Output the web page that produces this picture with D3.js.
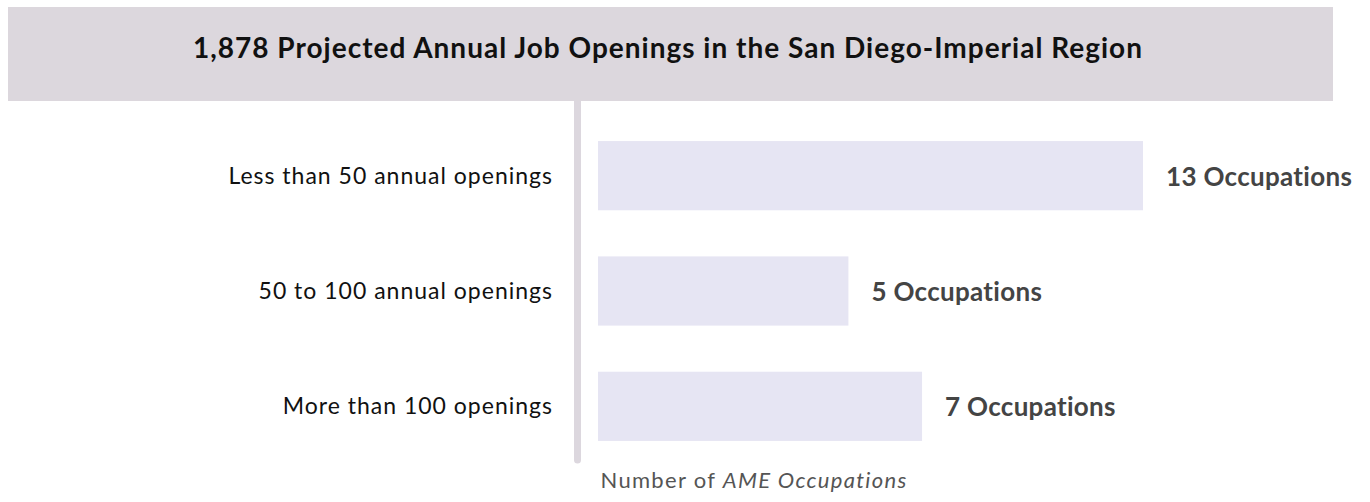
<!DOCTYPE html>
<html>
<head>
<meta charset="utf-8">
<script src="https://cdn.jsdelivr.net/npm/d3@7"></script>
<style>
  body { margin: 0; background: #ffffff; }
  text { font-family: Lato, "Open Sans", sans-serif; }
</style>
</head>
<body>
<div id="viz_openings"></div>
<script>
// data
var title = '1,878 Projected Annual Job Openings in the San Diego-Imperial Region';
var categories = ['Less than 50 annual openings', '50 to 100 annual openings', 'More than 100 openings'];
var occupations = [13, 5, 7];
var axisLabel = ['Number of ', 'AME Occupations'];

function plotOpenings() {
    var width_svg = 1370;
    var height_svg = 502;

    var svg = d3.select('#viz_openings')
        .append('svg')
        .attr('width', width_svg)
        .attr('height', height_svg);

    var rows = categories.map(function(c, i) {
        return {category: c, value: occupations[i]};
    });

    // bars start a little left of the zero point, like the original
    var x = d3.scaleLinear()
        .domain([-1.8, d3.max(occupations)])
        .range([598, 1143]);

    var y = d3.scaleBand()
        .domain(categories)
        .range([118, 464])
        .paddingInner(0.4)
        .paddingOuter(0.2);

    // vertical axis line (drawn first so the band covers its top)
    svg.append('line')
        .attr('x1', 577.5)
        .attr('x2', 577.5)
        .attr('y1', 95)
        .attr('y2', 460)
        .attr('stroke', '#dcd7de')
        .attr('stroke-width', 7)
        .attr('stroke-linecap', 'round');

    // title band
    svg.append('rect')
        .attr('x', 8)
        .attr('y', 7)
        .attr('width', 1325)
        .attr('height', 94)
        .style('fill', '#dcd7dd');

    // the original font is much wider, so stretch the spacing to its width
    svg.append('text')
        .attr('x', 193)
        .attr('y', 58)
        .attr('textLength', 949)
        .attr('lengthAdjust', 'spacing')
        .text(title)
        .style('font-size', '28px')
        .style('font-weight', 'bold')
        .style('fill', '#111111');

    // bars
    svg.append('g')
        .selectAll('rect')
        .data(rows)
        .join('rect')
        .attr('x', x(x.domain()[0]))
        .attr('y', function(d) { return y(d.category); })
        .attr('width', function(d) { return x(d.value) - x(x.domain()[0]); })
        .attr('height', y.bandwidth())
        .style('fill', '#e6e5f3');

    // category labels
    svg.append('g')
        .selectAll('text')
        .data(rows)
        .join('text')
        .attr('x', 553)
        .attr('y', function(d) { return y(d.category) + y.bandwidth() / 2 + 8; })
        .attr('text-anchor', 'end')
        .text(function(d) { return d.category; })
        .style('font-size', '23px')
        .style('letter-spacing', '1px')
        .style('fill', '#111111');

    // value labels
    svg.append('g')
        .selectAll('text')
        .data(rows)
        .join('text')
        .attr('x', function(d) { return x(d.value) + 23; })
        .attr('y', function(d) { return y(d.category) + y.bandwidth() / 2 + 10; })
        .text(function(d) { return d.value + ' Occupations'; })
        .style('font-size', '26px')
        .style('font-weight', 'bold')
        .style('letter-spacing', '0.3px')
        .style('fill', '#444444');

    // axis title
    var label = svg.append('text')
        .attr('x', 754)
        .attr('y', 488)
        .attr('text-anchor', 'middle')
        .style('font-size', '22px')
        .style('letter-spacing', '1.3px')
        .style('fill', '#555555');
    label.append('tspan').text(axisLabel[0]);
    label.append('tspan').style('font-style', 'italic').text(axisLabel[1]);
}

plotOpenings();
</script>
</body>
</html>
